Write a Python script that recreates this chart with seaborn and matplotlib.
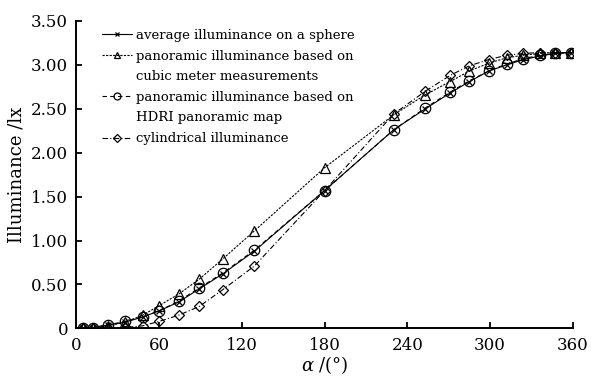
import matplotlib
matplotlib.use('Agg')
import matplotlib.pyplot as plt
from matplotlib.lines import Line2D
import pandas as pd
import seaborn as sns

# viewing angle alpha (degrees)
alpha = [5, 12, 23, 35, 48, 60, 74, 89, 106, 129, 180,
         230, 253, 271, 285, 299, 312, 324, 336, 347, 359]

sphere = [0.005, 0.01, 0.04, 0.07, 0.13, 0.20, 0.30, 0.45, 0.62, 0.88, 1.57,
          2.26, 2.50, 2.68, 2.81, 2.93, 3.00, 3.06, 3.10, 3.13, 3.14]
cubic = [0.0, 0.01, 0.03, 0.07, 0.15, 0.26, 0.39, 0.56, 0.79, 1.11, 1.83,
         2.43, 2.66, 2.81, 2.93, 3.02, 3.08, 3.11, 3.13, 3.14, 3.14]
hdri = [0.005, 0.01, 0.04, 0.08, 0.13, 0.20, 0.31, 0.46, 0.63, 0.89, 1.57,
        2.26, 2.51, 2.69, 2.82, 2.93, 3.01, 3.07, 3.11, 3.13, 3.14]
cylindrical = [0.0, 0.0, 0.0, 0.01, 0.03, 0.08, 0.15, 0.25, 0.44, 0.71, 1.57,
               2.44, 2.70, 2.88, 2.99, 3.06, 3.11, 3.13, 3.14, 3.14, 3.14]

labels = ['average illuminance on a sphere',
          'panoramic illuminance based on\ncubic meter measurements',
          'panoramic illuminance based on\nHDRI panoramic map',
          'cylindrical illuminance']

xticks = [0, 60, 120, 180, 240, 300, 360]
yticks = [0, 0.5, 1.0, 1.5, 2.0, 2.5, 3.0, 3.5]
yticklabels = ['0', '0.50', '1.00', '1.50', '2.00', '2.50', '3.00', '3.50']

df = pd.DataFrame({'alpha': alpha, 'sphere': sphere, 'cubic': cubic,
                   'hdri': hdri, 'cylindrical': cylindrical})

sns.set_style('ticks', {'axes.edgecolor': 'k', 'text.color': 'k',
                        'axes.labelcolor': 'k', 'xtick.color': 'k',
                        'ytick.color': 'k'})
plt.rcParams['font.family'] = ['DejaVu Serif']
plt.rcParams['mathtext.fontset'] = 'dejavuserif'

fig = plt.figure(figsize=(5.93, 3.81), dpi=100)
ax = fig.add_axes([0.129, 0.138, 0.837, 0.807])

# marker, size, linestyle, legend marker size
styles = {
    'cylindrical': ('D', 5.5, (0, (5, 2, 1, 2)), 4.0),
    'cubic': ('^', 7.5, (0, (2, 1.2)), 5.0),
    'hdri': ('o', 7.5, (0, (4, 3)), 5.0),
    'sphere': ('x', 3.8, '-', 3.5),
}

for col in ['cylindrical', 'cubic', 'hdri', 'sphere']:
    mk, ms, ls, _ = styles[col]
    sns.lineplot(data=df, x='alpha', y=col, ax=ax, color='k', linewidth=0.8,
                 marker=mk, markersize=ms, markerfacecolor='none',
                 markeredgecolor='k', markeredgewidth=0.9, linestyle=ls)

ax.set_xlim(0, 360)
ax.set_ylim(0, 3.5)
ax.set_xticks(xticks)
ax.set_yticks(yticks)
ax.set_yticklabels(yticklabels)
ax.tick_params(direction='in', length=4, width=1.3, labelsize=12, pad=6)
for side in ['left', 'bottom']:
    ax.spines[side].set_linewidth(1.4)
sns.despine(ax=ax)

ax.set_xlabel(r'$\alpha$ /(°)', fontsize=13, labelpad=0)
ax.set_ylabel('Illuminance /lx', fontsize=13, labelpad=4)

# legend: one row per text line, handle only on the first line of each entry
rows_h, rows_t = [], []
blank = Line2D([], [], linestyle='none', marker='none')
for col, lab in zip(['sphere', 'cubic', 'hdri', 'cylindrical'], labels):
    mk, ms, ls, lms = styles[col]
    h = Line2D([], [], color='k', linewidth=0.8, linestyle=ls, marker=mk,
               markersize=lms, markerfacecolor='none',
               markeredgecolor='k', markeredgewidth=0.9)
    for i, line in enumerate(lab.split('\n')):
        rows_h.append(h if i == 0 else blank)
        rows_t.append(line)

ax.legend(rows_h, rows_t, loc='upper left', bbox_to_anchor=(0.035, 1.0),
          frameon=False, fontsize=9.5, handlelength=2.3, handletextpad=0.3,
          labelspacing=0.58, borderaxespad=0.2)

fig.savefig('out.png', dpi=100)
